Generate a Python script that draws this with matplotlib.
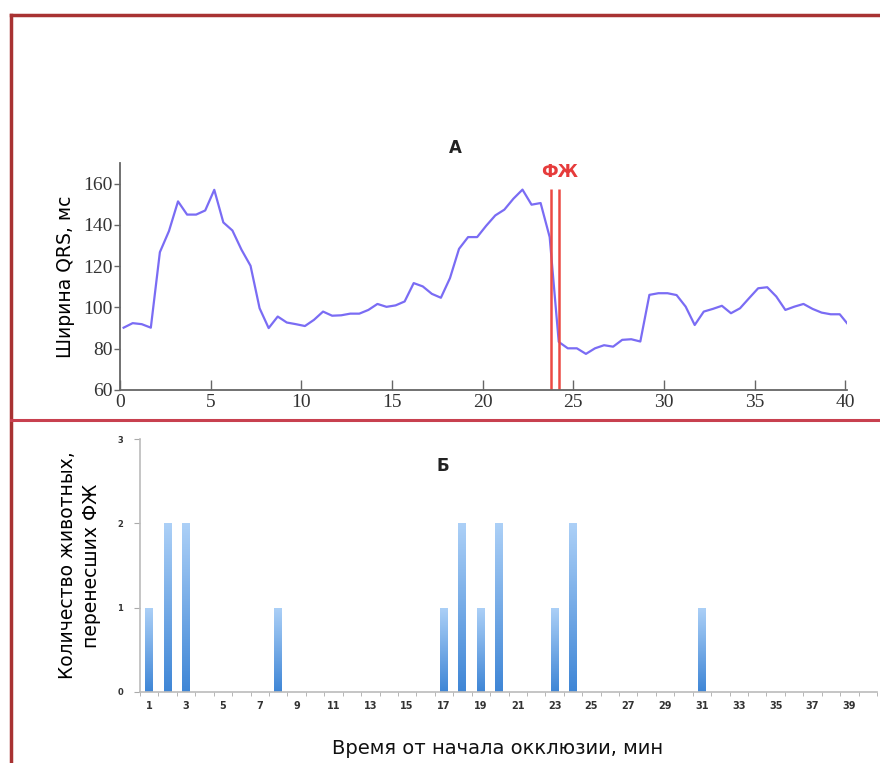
import numpy as np
import matplotlib
matplotlib.use("Agg")
import matplotlib.pyplot as plt
from matplotlib import font_manager
from matplotlib.lines import Line2D

# panel A: QRS width over time
t_min = [0.2, 0.7, 1.2, 1.7, 2.2, 2.7, 3.2, 3.7, 4.2, 4.7, 5.2, 5.7, 6.2, 6.7, 7.2, 7.7,
         8.2, 8.7, 9.2, 9.7, 10.2, 10.7, 11.2, 11.7, 12.2, 12.7, 13.2, 13.7, 14.2, 14.7,
         15.2, 15.7, 16.2, 16.7, 17.2, 17.7, 18.2, 18.7, 19.2, 19.7, 20.2, 20.7, 21.2,
         21.7, 22.2, 22.7, 23.2, 23.7, 24.2, 24.7, 25.2, 25.7, 26.2, 26.7, 27.2, 27.7,
         28.2, 28.7, 29.2, 29.7, 30.2, 30.7, 31.2, 31.7, 32.2, 32.7, 33.2, 33.7, 34.2,
         34.7, 35.2, 35.7, 36.2, 36.7, 37.2, 37.7, 38.2, 38.7, 39.2, 39.7, 40.1]
qrs_ms = [90.2, 92.4, 91.9, 90.2, 126.8, 137.0, 151.4, 145.0, 145.0, 147.0, 157.0, 141.2,
          137.3, 128.0, 120.2, 99.6, 90.0, 95.6, 92.7, 91.9, 91.0, 94.0, 98.0, 96.0, 96.2,
          97.0, 97.0, 98.8, 101.7, 100.3, 101.0, 102.9, 111.8, 110.2, 106.6, 104.7, 114.2,
          128.4, 134.1, 134.1, 139.6, 144.6, 147.4, 152.7, 157.1, 149.8, 150.6, 134.1, 83.3,
          80.2, 80.2, 77.5, 80.2, 81.7, 81.0, 84.3, 84.6, 83.5, 106.1, 106.9, 106.9, 106.0,
          100.4, 91.5, 98.0, 99.3, 100.8, 97.2, 99.6, 104.5, 109.3, 109.8, 105.3, 98.8,
          100.4, 101.7, 99.3, 97.5, 96.7, 96.7, 92.4]
vf_marks = [23.75, 24.22]
yticks_a = [60, 80, 100, 120, 140, 160]
xticks_a = [0, 5, 10, 15, 20, 25, 30, 35, 40]

# panel B: number of animals with VF per minute
minutes = list(range(1, 41))
vf_counts = [1, 2, 2, 0, 0, 0, 0, 1, 0, 0, 0, 0, 0, 0, 0, 0, 1, 2, 1, 2,
             0, 0, 1, 2, 0, 0, 0, 0, 0, 0, 1, 0, 0, 0, 0, 0, 0, 0, 0, 0]
xticklabels_b = [str(m) if m % 2 == 1 else "" for m in minutes]

installed = {f.name for f in font_manager.fontManager.ttflist}
narrow = "Liberation Sans Narrow" if "Liberation Sans Narrow" in installed else "DejaVu Sans"
serif = "Liberation Serif" if "Liberation Serif" in installed else "DejaVu Serif"

fig = plt.figure(figsize=(8.8, 7.63), dpi=100)

# ---- panel A
ax1 = fig.add_axes([120 / 880, 1 - 390 / 763, 727 / 880, 227 / 763])
ax1.plot(t_min, qrs_ms, color="#7a6cf4", lw=1.6)
ax1.vlines(vf_marks, 60, 157.5, colors="#ec4a44", lw=1.8)
ax1.set_xlim(0, 40.1)
ax1.set_ylim(60, 170)
ax1.set_xticks(xticks_a)
ax1.set_yticks(yticks_a)
for s in ["top", "right"]:
    ax1.spines[s].set_visible(False)
for s in ["left", "bottom"]:
    ax1.spines[s].set_color("#666666")
    ax1.spines[s].set_linewidth(1.3)
ax1.tick_params(axis="x", direction="in", length=7, width=1, color="#666666", pad=3)
ax1.tick_params(axis="y", direction="out", length=4, width=1, color="#666666", pad=1)
for lab in ax1.get_xticklabels() + ax1.get_yticklabels():
    lab.set_fontfamily(serif)
    lab.set_fontsize(14)
    lab.set_color("#333333")
ax1.set_ylabel("Ширина QRS, мс", fontsize=13.5, labelpad=6)
fig.text(455 / 880, 1 - 148 / 763, "А", fontsize=12, fontweight="bold",
         ha="center", va="center", color="#222222")
fig.text(560 / 880, 1 - 172 / 763, "ФЖ", fontsize=12, fontweight="bold",
         ha="center", va="center", color="#e63b3b")

# ---- panel B
ax2 = fig.add_axes([140 / 880, 1 - 691.7 / 763, 737 / 880, 252.4 / 763])
bars = ax2.bar(minutes, vf_counts, width=0.43, color="none", edgecolor="none")
grad = np.linspace(0, 1, 100).reshape(-1, 1)
cmap = matplotlib.colors.LinearSegmentedColormap.from_list("bar", ["#3f86d6", "#acd0f7"])
for b in bars:
    if b.get_height() == 0:
        continue
    x0, w, h = b.get_x(), b.get_width(), b.get_height()
    im = ax2.imshow(grad, extent=[x0, x0 + w, 0, h], origin="lower", cmap=cmap,
                    aspect="auto", zorder=2)
    im.set_clip_path(b)
ax2.set_xlim(0.55, 40.5)
ax2.set_ylim(0, 3)
ax2.set_xticks(minutes)
ax2.set_xticklabels(xticklabels_b)
ax2.set_xticks(np.arange(0.5, 41, 1), minor=True)
ax2.set_yticks([0, 1, 2, 3])
for s in ["top", "right"]:
    ax2.spines[s].set_visible(False)
for s in ["left", "bottom"]:
    ax2.spines[s].set_color("#bbbbbb")
    ax2.spines[s].set_linewidth(1.2)
ax2.tick_params(axis="x", which="major", length=0, pad=7, labelsize=7, labelcolor="#333333")
ax2.tick_params(axis="x", which="minor", length=3, color="#aaaaaa")
ax2.tick_params(axis="y", length=4, color="#aaaaaa", pad=8, labelsize=6, labelcolor="#333333")
for lab in ax2.get_xticklabels() + ax2.get_yticklabels():
    lab.set_fontweight("bold")
ax2.set_ylabel("Количество животных,\nперенесших ФЖ", fontsize=13.5, labelpad=12,
               linespacing=1.35)
fig.text(443 / 880, 1 - 466 / 763, "Б", fontsize=12, fontweight="bold",
         ha="center", va="center", color="#222222", family=narrow)
fig.text(498 / 880, 1 - 748 / 763, "Время от начала окклюзии, мин", fontsize=14,
         ha="center", va="center", color="#111111", family=narrow)

# red frame lines
fig.add_artist(Line2D([11 / 880, 1], [1 - 15 / 763] * 2, transform=fig.transFigure,
                      color="#a83232", lw=2.5))
fig.add_artist(Line2D([11 / 880] * 2, [0, 1 - 15 / 763], transform=fig.transFigure,
                      color="#a83232", lw=2.5))
fig.add_artist(Line2D([11 / 880, 1], [1 - 420 / 763] * 2, transform=fig.transFigure,
                      color="#c8404f", lw=2.2))

fig.savefig("out.png", dpi=100)
